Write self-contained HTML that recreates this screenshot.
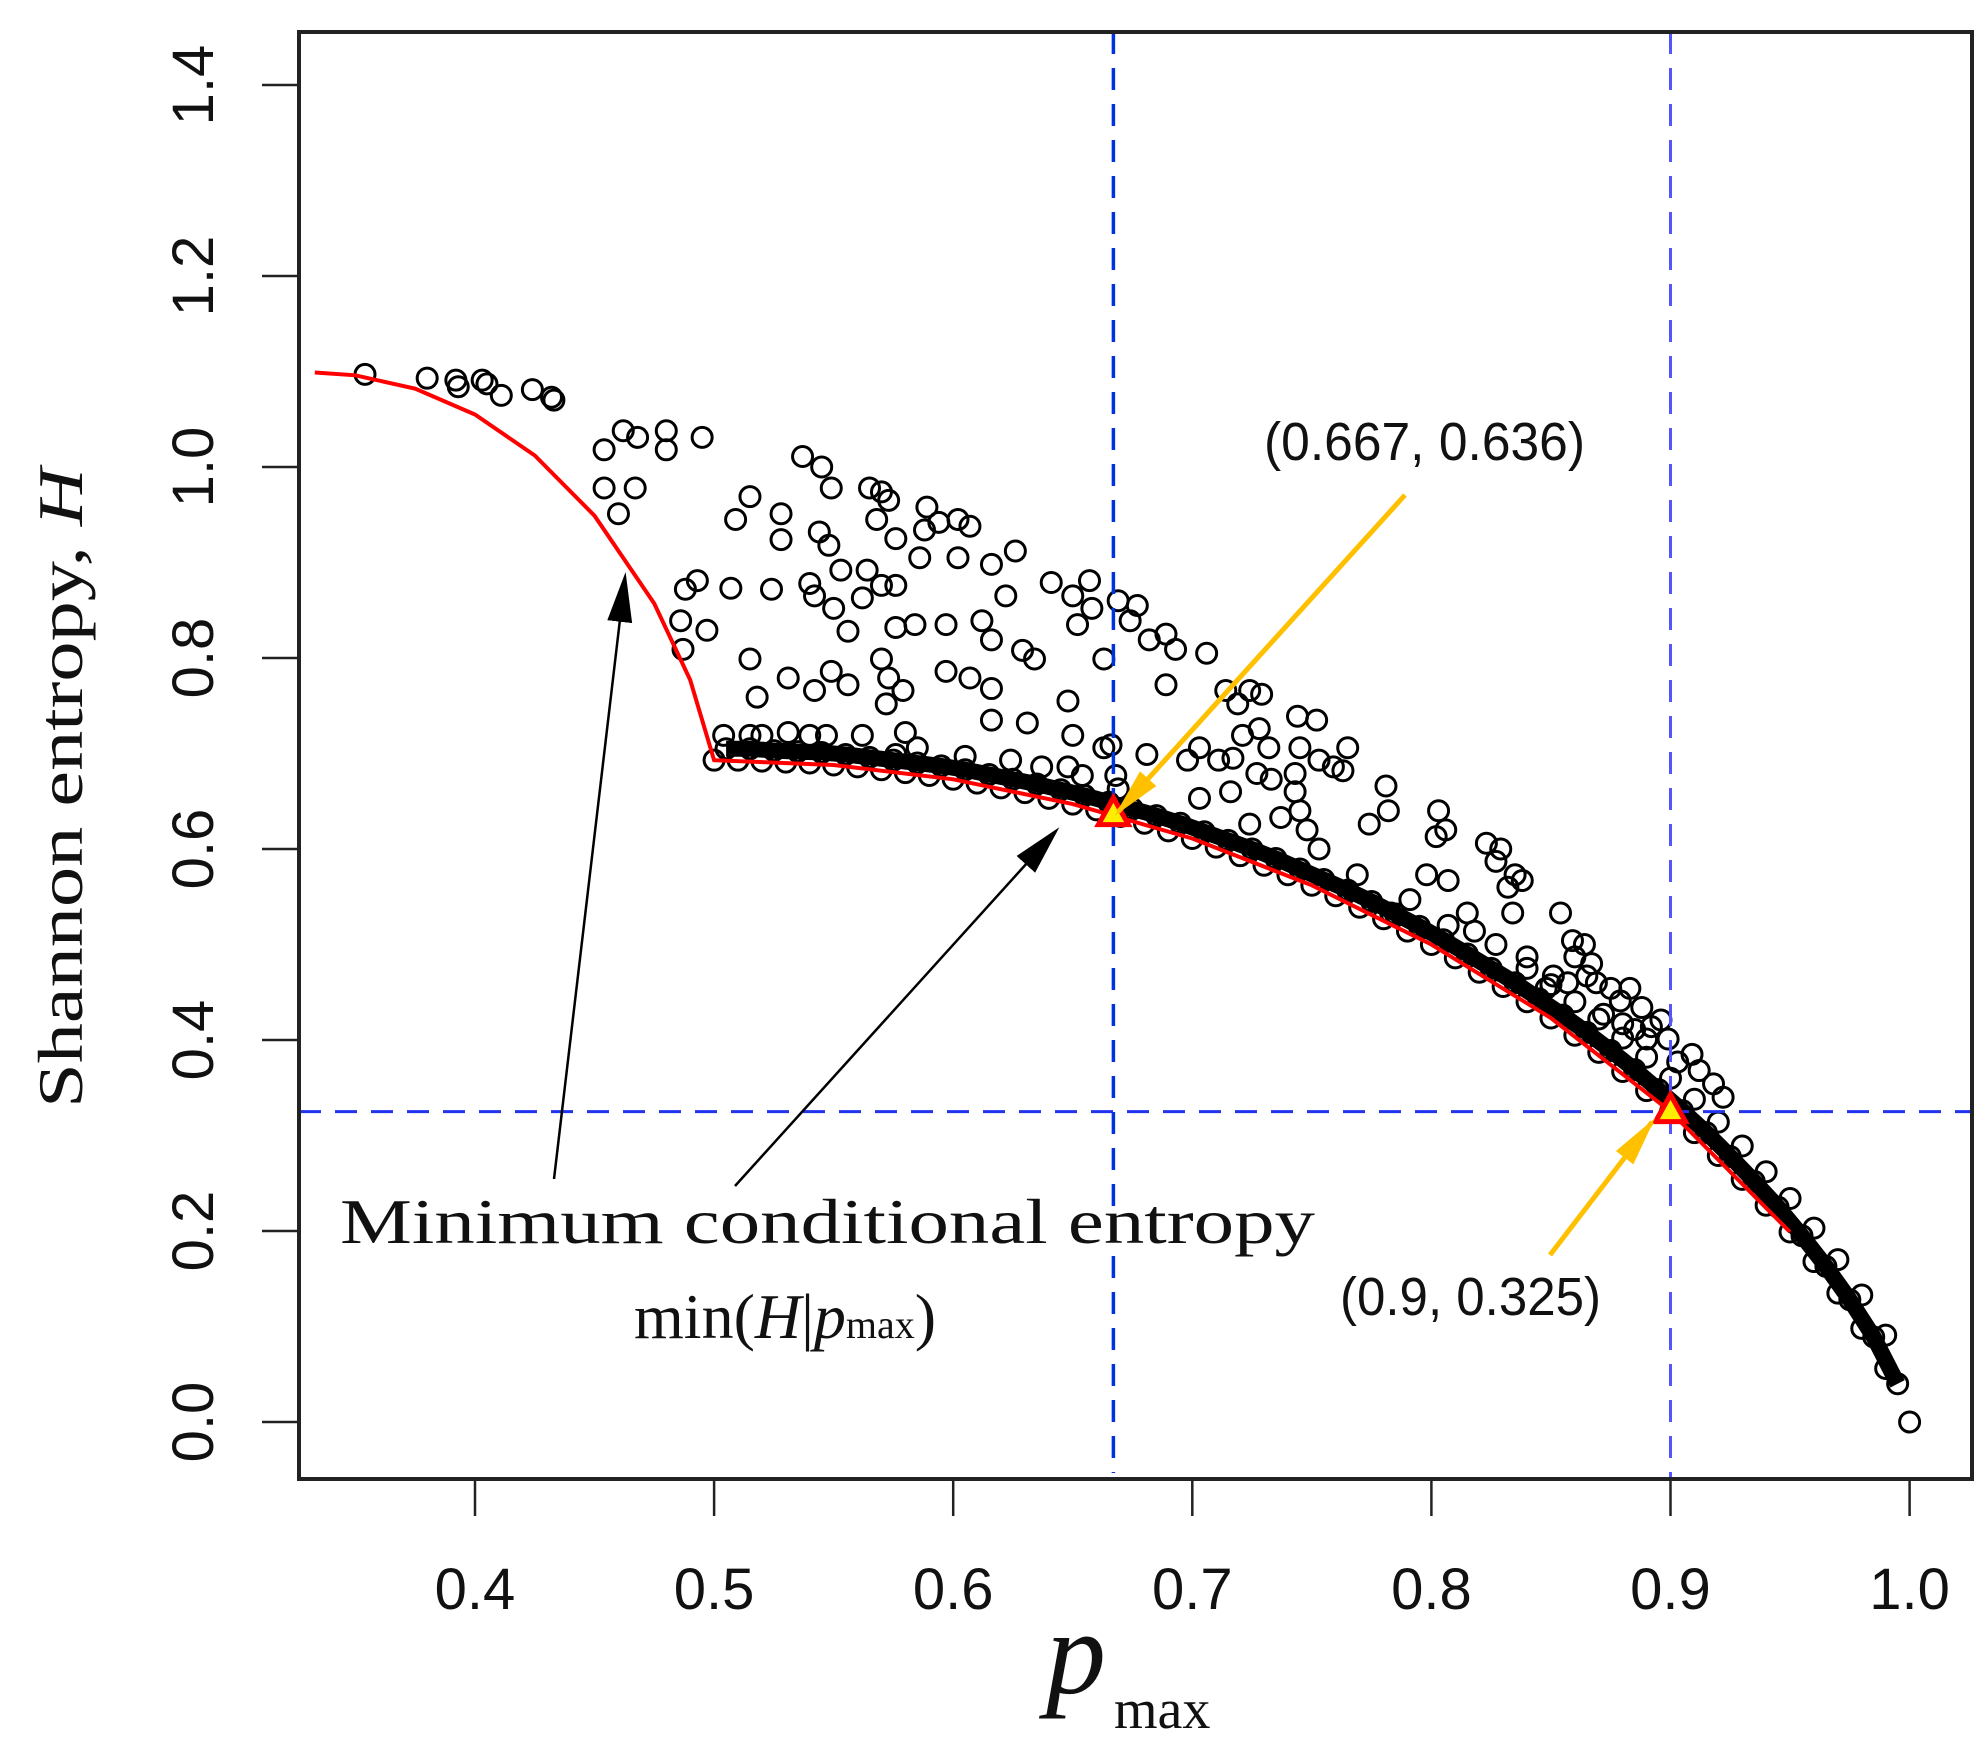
<!DOCTYPE html>
<html><head><meta charset="utf-8"><style>
html,body{margin:0;padding:0;background:#fff;}
svg{display:block;}
</style></head><body>
<svg id="chart" width="1988" height="1759" viewBox="0 0 1988 1759" xmlns="http://www.w3.org/2000/svg">
<g id="plot"></g>
</svg>
<script>
// ---- data ----
const xTicks = [0.4,0.5,0.6,0.7,0.8,0.9,1.0];
const xTickLabels = ["0.4","0.5","0.6","0.7","0.8","0.9","1.0"];
const yTicks = [0,0.2,0.4,0.6,0.8,1.0,1.2,1.4];
const yTickLabels = ["0.0","0.2","0.4","0.6","0.8","1.0","1.2","1.4"];
const curveX = [0.333,0.35,0.375,0.4,0.425,0.45,0.475,0.49,0.5,0.55,0.6,0.65,0.7,0.75,0.8,0.85,0.9,0.95];
const curveY = [1.099,1.096,1.082,1.055,1.012,0.949,0.857,0.777,0.693,0.688,0.673,0.647,0.611,0.562,0.500,0.423,0.325,0.199];
const bandAX = [0.50,0.51,0.52,0.53,0.54,0.55,0.56,0.57,0.58,0.59,0.60,0.61,0.62,0.63,0.64,0.65,0.66,0.67,0.68,0.69,0.70,0.71,0.72,0.73,0.74,0.75,0.76,0.77,0.78,0.79,0.80,0.81,0.82,0.83,0.84,0.85,0.86,0.87,0.88,0.89,0.90,0.91,0.92,0.93,0.94,0.95,0.96,0.97,0.98,0.99,1.00];
const bandAY = [0.693,0.693,0.692,0.691,0.690,0.688,0.686,0.683,0.680,0.677,0.673,0.669,0.664,0.659,0.653,0.647,0.641,0.634,0.627,0.619,0.611,0.602,0.593,0.583,0.573,0.562,0.551,0.539,0.527,0.514,0.500,0.486,0.471,0.456,0.440,0.423,0.405,0.387,0.367,0.347,0.325,0.303,0.279,0.254,0.227,0.199,0.168,0.135,0.098,0.056,0.0];
const bandBX = [0.505,0.515,0.525,0.535,0.545,0.555,0.565,0.575,0.585,0.595,0.605,0.615,0.625,0.635,0.645,0.655,0.665,0.675,0.685,0.695,0.705,0.715,0.725,0.735,0.745,0.755,0.765,0.775,0.785,0.795,0.805,0.815,0.825,0.835,0.845,0.855,0.865,0.875,0.885,0.895,0.905,0.915,0.925,0.935,0.945,0.955,0.965,0.975,0.985,0.995];
const bandBY = [0.705,0.705,0.703,0.702,0.701,0.699,0.696,0.693,0.690,0.687,0.683,0.678,0.673,0.668,0.662,0.656,0.649,0.642,0.635,0.627,0.618,0.609,0.600,0.590,0.579,0.568,0.557,0.545,0.532,0.519,0.505,0.490,0.475,0.460,0.443,0.426,0.408,0.389,0.369,0.348,0.326,0.303,0.278,0.252,0.225,0.195,0.163,0.128,0.089,0.040];
const bandCX = [0.84,0.85,0.86,0.87,0.88,0.89,0.90,0.91,0.92,0.93,0.94,0.95,0.96,0.97,0.98,0.99];
const bandCY = [0.475,0.458,0.440,0.422,0.402,0.382,0.360,0.338,0.314,0.289,0.262,0.234,0.203,0.170,0.133,0.091];
const scatX = [0.354,0.38,0.392,0.393,0.403,0.405,0.411,0.424,0.432,0.433,
0.454,0.462,0.468,0.480,0.480,0.495,0.454,0.467,0.460,0.488,0.493,0.486,0.497,0.487,
0.537,0.545,0.549,0.515,0.509,0.528,0.544,0.548,0.528,0.553,0.540,0.542,0.550,0.556,0.524,0.507,
0.565,0.570,0.573,0.568,0.576,0.564,0.570,0.576,0.562,0.589,0.594,0.602,0.607,0.588,0.586,0.602,0.616,0.626,
0.576,0.584,0.597,0.612,0.622,0.629,0.634,0.616,0.641,0.650,0.652,0.657,0.658,0.669,0.677,0.674,0.663,0.682,0.689,0.693,0.706,0.689,
0.515,0.518,0.531,0.549,0.556,0.542,0.570,0.573,0.579,0.572,0.597,0.607,0.616,0.616,0.631,0.648,0.650,0.663,0.681,
0.504,0.515,0.520,0.531,0.540,0.547,0.562,0.580,0.576,0.585,0.605,0.624,0.637,0.648,0.654,0.666,0.668,0.669,
0.698,0.703,0.711,0.717,0.714,0.719,0.724,0.729,0.721,0.728,0.732,0.727,0.733,0.716,0.703,0.724,0.737,0.744,0.752,0.745,0.743,0.753,0.759,0.765,0.763,0.743,0.745,0.748,0.753,0.769,0.781,0.782,0.774,0.803,0.806,0.802,0.798,0.807,0.823,0.827,0.829,0.835,0.832,0.838,0.834,0.854,0.818,0.827,0.840,0.859,0.864,0.867,0.869,0.875,0.879,0.883,0.888,0.892,0.899,0.903,0.909,0.912,0.918,0.922,0.860,0.865,0.857,0.872,0.880,0.885,0.890,0.896,0.851,0.848,0.815,0.807,0.791,0.783];
const scatY = [1.097,1.093,1.091,1.084,1.091,1.087,1.075,1.081,1.073,1.070,
1.018,1.038,1.031,1.038,1.018,1.031,0.978,0.978,0.951,0.872,0.881,0.839,0.829,0.809,
1.011,1.000,0.978,0.969,0.945,0.951,0.932,0.918,0.924,0.892,0.878,0.865,0.852,0.828,0.872,0.873,
0.978,0.974,0.965,0.945,0.925,0.892,0.876,0.876,0.863,0.958,0.942,0.945,0.938,0.934,0.905,0.905,0.898,0.912,
0.832,0.835,0.835,0.839,0.865,0.808,0.799,0.819,0.879,0.865,0.835,0.881,0.852,0.860,0.855,0.839,0.799,0.819,0.825,0.809,0.805,0.772,
0.799,0.759,0.779,0.786,0.772,0.766,0.799,0.779,0.766,0.752,0.786,0.779,0.768,0.735,0.732,0.755,0.719,0.706,0.699,
0.719,0.719,0.719,0.722,0.719,0.719,0.719,0.722,0.699,0.706,0.697,0.693,0.686,0.686,0.677,0.709,0.677,0.663,
0.693,0.706,0.693,0.695,0.766,0.752,0.766,0.762,0.719,0.726,0.706,0.679,0.673,0.660,0.653,0.626,0.633,0.739,0.735,0.706,0.679,0.693,0.686,0.706,0.682,0.660,0.640,0.620,0.600,0.573,0.666,0.640,0.626,0.640,0.620,0.613,0.573,0.567,0.606,0.587,0.600,0.573,0.560,0.567,0.533,0.533,0.514,0.500,0.487,0.504,0.500,0.480,0.460,0.454,0.441,0.454,0.434,0.414,0.401,0.377,0.385,0.368,0.354,0.340,0.487,0.467,0.460,0.427,0.417,0.411,0.401,0.421,0.467,0.454,0.533,0.520,0.547,0.533];
const markX = [0.667,0.9];
const markY = [0.636,0.325];
const markLabels = ["(0.667, 0.636)","(0.9, 0.325)"];

// ---- axes ----
const X0=475, XS=2391;
const Y0=1422, YS=955;
const sx = v => X0 + (v-0.4)*XS;
const sy = v => Y0 - v*YS;
const L=299, R=1972, T=32, B=1479;
const NS="http://www.w3.org/2000/svg";
const svg=document.getElementById('chart');
const plot=document.getElementById('plot');
function mk(tag, attrs, parent){const e=document.createElementNS(NS,tag);for(const k in attrs)e.setAttribute(k,attrs[k]);(parent||svg).appendChild(e);return e;}

const defs=mk('defs',{});
const cp=mk('clipPath',{id:'clip'},defs);
mk('rect',{x:L,y:T,width:R-L,height:B-T},cp);
const mkr=mk('marker',{id:'ah',viewBox:'0 0 10 10',markerWidth:'50',markerHeight:'50',refX:'9',refY:'5',orient:'auto',markerUnits:'userSpaceOnUse'},defs);
mk('path',{d:'M0,2.5 L10,5 L0,7.5 Z',fill:'#000'},mkr);
const mko=mk('marker',{id:'aho',viewBox:'0 0 10 10',markerWidth:'50',markerHeight:'50',refX:'9',refY:'5',orient:'auto',markerUnits:'userSpaceOnUse'},defs);
mk('path',{d:'M0,2.8 L10,5 L0,7.2 Z',fill:'#ffc000'},mko);

const pts=mk('g',{'clip-path':'url(#clip)'},plot);



// dense band underlay (through band rows)
function bandPath(xs,ys){let s='';for(let i=0;i<xs.length;i++){s+=(i?'L':'M')+sx(xs[i]).toFixed(1)+','+sy(ys[i]).toFixed(1);}return s;}
const bp=mk('path',{d:bandPath(bandBX,bandBY),fill:'none',stroke:'#000','stroke-width':16,'stroke-linejoin':'round'},pts);



function drawPts(xs,ys,name){
  for(let i=0;i<xs.length;i++){
    const c=mk('circle',{cx:sx(xs[i]),cy:sy(ys[i]),r:10,fill:'none',stroke:'#000','stroke-width':3},pts);
    
    
  }
}
drawPts(bandAX,bandAY,'band-point');
drawPts(bandBX,bandBY,'band-point');
drawPts(bandCX,bandCY,'band-point');
drawPts(scatX,scatY,'scatter-point');

let d='';
for(let i=0;i<curveX.length;i++){d+=(i?'L':'M')+sx(curveX[i]).toFixed(1)+','+sy(curveY[i]).toFixed(1);}
const cv=mk('path',{d:d,fill:'none',stroke:'#f00','stroke-width':4},plot);



const vl1=mk('line',{x1:sx(markX[0]),x2:sx(markX[0]),y1:T,y2:B-6,stroke:'#0033dd','stroke-width':3.5,'stroke-dasharray':'22,14'},svg);


const vl2=mk('line',{x1:sx(markX[1]),x2:sx(markX[1]),y1:T,y2:B,stroke:'#5555ff','stroke-width':3,'stroke-dasharray':'22,14'},svg);


const hl=mk('line',{x1:L,x2:R,y1:sy(markY[1]),y2:sy(markY[1]),stroke:'#2233ee','stroke-width':3,'stroke-dasharray':'22,14'},svg);



const fr=mk('rect',{x:L,y:T,width:R-L,height:B-T,fill:'none',stroke:'#222','stroke-width':4},svg);



for(let i=0;i<xTicks.length;i++){
  const x=sx(xTicks[i]);
  const t=mk('line',{x1:x,x2:x,y1:B,y2:B+37,stroke:'#222','stroke-width':2.5});
  
  
  const tx=mk('text',{x:x,y:1609,'text-anchor':'middle','font-family':'Liberation Sans, sans-serif','font-size':58,fill:'#111'});
  tx.textContent=xTickLabels[i];
  
  
}
for(let i=0;i<yTicks.length;i++){
  const y=sy(yTicks[i]);
  const t=mk('line',{x1:L-37,x2:L,y1:y,y2:y,stroke:'#222','stroke-width':2.5});
  
  
  const tx=mk('text',{x:0,y:0,transform:`translate(213,${y}) rotate(-90)`,'text-anchor':'middle','font-family':'Liberation Sans, sans-serif','font-size':58,fill:'#111'});
  tx.textContent=yTickLabels[i];
  
  
}

for(let i=0;i<markX.length;i++){
  const x=sx(markX[i]), y=sy(markY[i]);
  const tr=mk('path',{d:`M${x},${y-17} L${x+15},${y+10} L${x-15},${y+10} Z`,fill:'#ffee00',stroke:'#f00','stroke-width':5},svg);
  
  
}
const lab1=mk('text',{x:1264,y:460,'font-family':'Liberation Sans, sans-serif','font-size':54,textLength:321,lengthAdjust:'spacingAndGlyphs',fill:'#111'});
lab1.textContent=markLabels[0];


const lab2=mk('text',{x:1340,y:1315,'font-family':'Liberation Sans, sans-serif','font-size':54,textLength:261,lengthAdjust:'spacingAndGlyphs',fill:'#111'});
lab2.textContent=markLabels[1];



const a1=mk('line',{x1:1405,y1:495,x2:1118,y2:812,stroke:'#ffc000','stroke-width':5,'marker-end':'url(#aho)'});


const a2=mk('line',{x1:1550,y1:1255,x2:1652,y2:1122,stroke:'#ffc000','stroke-width':5,'marker-end':'url(#aho)'});


const a3=mk('line',{x1:554,y1:1179,x2:625,y2:577,stroke:'#000','stroke-width':2.5,'marker-end':'url(#ah)'});


const a4=mk('line',{x1:735,y1:1186,x2:1056,y2:831,stroke:'#000','stroke-width':2.5,'marker-end':'url(#ah)'});


</script>
<svg style="position:absolute;left:0;top:0" width="1988" height="1759">
<text x="340" y="1243" font-family="Liberation Serif, serif" font-size="64" textLength="975" lengthAdjust="spacingAndGlyphs" fill="#111">Minimum conditional entropy</text>
<text x="634" y="1338" font-family="Liberation Serif, serif" font-size="64" fill="#111">min(<tspan font-style="italic">H</tspan>|<tspan font-style="italic">p</tspan><tspan font-size="40">max</tspan>)</text>
<text transform="translate(82,788) rotate(-90)" text-anchor="middle" font-family="Liberation Serif, serif" font-size="64" textLength="640" lengthAdjust="spacingAndGlyphs" fill="#111">Shannon entropy, <tspan font-style="italic">H</tspan></text>
<text x="1046" y="1693" font-family="Liberation Serif, serif" font-size="120" font-style="italic" fill="#111">p</text>
<text x="1114" y="1728" font-family="Liberation Serif, serif" font-size="56" fill="#111">max</text>
</svg>
</body></html>
